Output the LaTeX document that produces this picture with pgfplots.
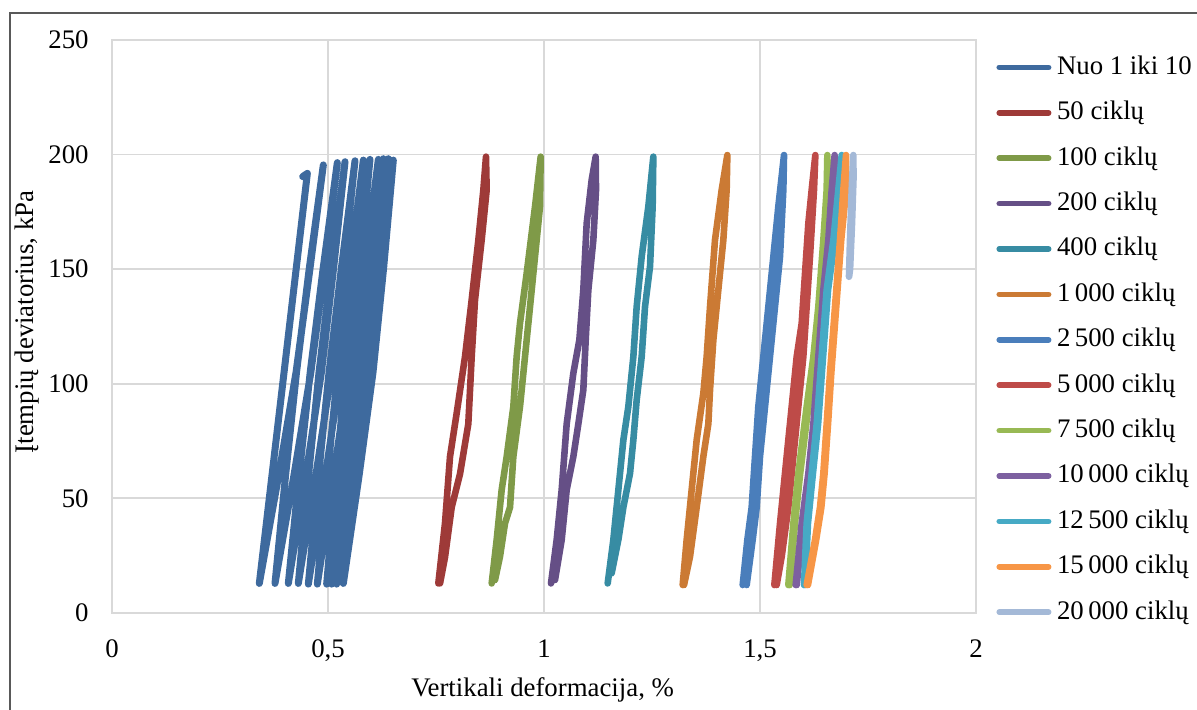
\documentclass[border=0pt]{standalone}
\usepackage{fontspec}
\setmainfont{Liberation Serif}
\usepackage{pgfplots}
\pgfplotsset{compat=1.18}
\definecolor{gridgray}{RGB}{217,217,217}
\definecolor{frame}{RGB}{89,89,89}
\definecolor{c1}{RGB}{62,106,158}
\definecolor{c2}{RGB}{158,58,56}
\definecolor{c3}{RGB}{127,154,72}
\definecolor{c4}{RGB}{101,79,134}
\definecolor{c5}{RGB}{55,140,163}
\definecolor{c6}{RGB}{203,122,52}
\definecolor{c7}{RGB}{74,126,187}
\definecolor{c8}{RGB}{190,75,72}
\definecolor{c9}{RGB}{152,185,84}
\definecolor{c10}{RGB}{125,96,160}
\definecolor{c11}{RGB}{70,170,197}
\definecolor{c12}{RGB}{247,150,70}
\definecolor{c13}{RGB}{164,185,215}
\begin{document}
\fontsize{13.4}{16}\selectfont
\begin{tikzpicture}
\useasboundingbox (0,0) rectangle (598.5pt,355pt);
\draw[color=frame, line width=1pt] (5pt,0pt) -- (5pt,348.5pt) -- (598.5pt,348.5pt);
\begin{axis}[
  at={(56pt,48.5pt)}, anchor=south west, scale only axis,
  width=432pt, height=286.5pt,
  xmin=0, xmax=2, ymin=0, ymax=250,
  xtick={0,0.5,1,1.5,2}, xticklabels={0,{0,5},1,{1,5},2},
  ytick={0,50,100,150,200,250}, yticklabels={0,50,100,150,200,250},
  major tick length=0pt,
  grid=major, major grid style={draw=gridgray, line width=0.9pt},
  axis line style={draw=gridgray, line width=0.9pt},
  tick label style={font=\fontsize{13.4}{16}\selectfont, inner sep=0pt},
  yticklabel style={anchor=east, xshift=-11.5pt},
  xticklabel style={anchor=north, yshift=-13pt},
  every axis plot/.append style={line width=3.3pt, line join=round, line cap=round},
  legend image code/.code={\draw[#1, line width=2.8pt, line cap=round] (0pt,0pt) -- (24.7pt,0pt);},
  legend cell align=left,
  legend style={at={(1.0232,0.9756)}, anchor=north west, draw=none, fill=none,
    inner sep=0pt, row sep=9.7pt, font=\fontsize{13.4}{16}\selectfont,
    nodes={inner sep=0pt, text height=10pt, text depth=3pt},
    /tikz/every odd column/.append style={column sep=2.8pt}},
]
\addplot[c1, line width=3.5pt] coordinates {
(0.4414,190.4) (0.4522,191.8) (0.3410,12.9)
(0.3858,60) (0.4260,105) (0.4581,150) (0.4892,195.5)
(0.4564,150) (0.4271,105) (0.4018,60) (0.3773,12.9)
(0.4211,60) (0.4603,105) (0.4915,150) (0.5216,196.5)
(0.4885,150) (0.4588,105) (0.4331,60) (0.4082,12.9)
(0.4487,60) (0.4847,105) (0.5127,150) (0.5394,196.9)
(0.5076,150) (0.4792,105) (0.4549,60) (0.4313,12.9)
(0.4718,60) (0.5078,105) (0.5358,150) (0.5625,197.3)
(0.5307,150) (0.5024,105) (0.4780,60) (0.4545,12.6)
(0.4940,60) (0.5290,105) (0.5561,150) (0.5818,197.6)
(0.5504,150) (0.5224,105) (0.4985,60) (0.4753,12.6)
(0.5134,60) (0.5471,105) (0.5729,150) (0.5972,197.9)
(0.5674,150) (0.5409,105) (0.5185,60) (0.4969,12.6)
(0.5344,60) (0.5676,105) (0.5928,150) (0.6165,197.9)
(0.5847,150) (0.5564,105) (0.5320,60) (0.5085,12.6)
(0.5460,60) (0.5792,105) (0.6044,150) (0.6281,198.2)
(0.5963,150) (0.5680,105) (0.5436,60) (0.5201,12.6)
(0.5576,60) (0.5908,105) (0.6160,150) (0.6397,198.2)
(0.6089,150) (0.5815,105) (0.5581,60) (0.5355,12.9)
(0.5720,60) (0.6042,105) (0.6285,150) (0.6512,197.6)
};
\addlegendentry{Nuo 1 iki 10}
\addplot[c2] coordinates {
(0.7554,12.9) (0.7708,39.1) (0.7824,68.2) (0.7978,87.1) (0.8171,111.8)
(0.8326,136.6) (0.8480,162.7) (0.8596,184.6) (0.8657,199.1)
(0.8673,184.6) (0.8557,162.7) (0.8403,136.6) (0.8326,111.8) (0.8248,82.5)
(0.8056,60.7) (0.7863,46.1) (0.7708,24.3) (0.7593,12.9)
};
\addlegendentry{50 ciklų}
\addplot[c3] coordinates {
(0.8789,12.9) (0.8904,31.9) (0.9020,53.7) (0.9136,68.2) (0.9290,90.0)
(0.9367,111.8) (0.9444,126.4) (0.9599,148.2) (0.9792,177.3) (0.9923,199.1)
(0.9907,177.3) (0.9792,155.5) (0.9676,133.6) (0.9560,111.8) (0.9444,90.0)
(0.9290,68.2) (0.9213,46.1) (0.9097,39.1) (0.8981,24.6) (0.8866,14.4)
};
\addlegendentry{100 ciklų}
\addplot[c4] coordinates {
(1.0162,12.9) (1.0293,31.9) (1.0409,53.7) (1.0525,82.5) (1.0679,104.6)
(1.0818,119.1) (1.0910,140.9) (1.0988,170.0) (1.1103,188.9) (1.1196,199.1)
(1.1204,184.6) (1.1142,162.7) (1.1026,140.9) (1.0965,119.1) (1.0910,97.3)
(1.0795,82.5) (1.0679,68.2) (1.0525,53.7) (1.0409,31.9) (1.0255,14.4)
};
\addlegendentry{200 ciklų}
\addplot[c5] coordinates {
(1.1474,12.9) (1.1605,31.9) (1.1721,53.7) (1.1837,75.5) (1.1952,90.0)
(1.2068,111.8) (1.2145,133.6) (1.2261,155.5) (1.2415,177.3) (1.2531,199.1)
(1.2515,177.3) (1.2454,151.1) (1.2338,133.6) (1.2261,111.8) (1.2145,92.9)
(1.2068,75.5) (1.1991,60.9) (1.1837,46.1) (1.1721,31.9) (1.1566,17.3)
};
\addlegendentry{400 ciklų}
\addplot[c6] coordinates {
(1.3210,12.2) (1.3302,31.9) (1.3418,53.7) (1.3534,75.5) (1.3688,95.8)
(1.3765,111.8) (1.3843,133.6) (1.3958,162.7) (1.4113,184.6) (1.4244,199.8)
(1.4228,184.6) (1.4151,162.7) (1.4035,140.9) (1.3920,119.1) (1.3843,97.3)
(1.3804,82.5) (1.3688,68.2) (1.3534,46.1) (1.3380,24.6) (1.3241,12.2)
};
\addlegendentry{1\,000 ciklų}
\addplot[c7] coordinates {
(1.4599,12.2) (1.4707,31.9) (1.4807,46.1) (1.4884,68.2) (1.4961,90.0)
(1.5077,111.8) (1.5193,133.6) (1.5309,155.5) (1.5424,177.3) (1.5556,199.8)
(1.5540,184.6) (1.5463,155.5) (1.5347,133.6) (1.5231,111.8) (1.5116,90.0)
(1.5000,68.2) (1.4923,46.1) (1.4830,31.9) (1.4691,12.2)
};
\addlegendentry{2\,500 ciklų}
\addplot[c8] coordinates {
(1.5332,12.2) (1.5463,39.1) (1.5617,68.2) (1.5733,90.0) (1.5849,111.8)
(1.5965,126.4) (1.6042,148.2) (1.6119,170.0) (1.6196,184.6) (1.6281,199.8)
(1.6250,184.6) (1.6157,155.5) (1.6080,133.6) (1.6003,111.8) (1.5887,90.0)
(1.5772,68.2) (1.5656,46.1) (1.5502,24.6) (1.5386,12.2)
};
\addlegendentry{5\,000 ciklų}
\addplot[c9] coordinates {
(1.5656,12.2) (1.5772,39.1) (1.5887,60.9) (1.6080,90.0) (1.6235,111.8)
(1.6350,133.6) (1.6466,162.7) (1.6543,184.6) (1.6559,199.8)
(1.6575,184.6) (1.6500,162.7) (1.6390,133.6) (1.6275,111.8) (1.6120,90.0)
(1.5930,60.9) (1.5810,39.1) (1.5690,12.2)
};
\addlegendentry{7\,500 ciklų}
\addplot[c10] coordinates {
(1.5826,12.2) (1.5965,39.1) (1.6119,60.9) (1.6235,82.5) (1.6350,111.8)
(1.6466,140.9) (1.6582,162.7) (1.6659,184.6) (1.6728,199.8)
(1.6735,184.6) (1.6620,162.7) (1.6500,140.9) (1.6385,111.8) (1.6270,82.5)
(1.6150,60.9) (1.5995,39.1) (1.5850,12.2)
};
\addlegendentry{10\,000 ciklų}
\addplot[c11] coordinates {
(1.6019,12.2) (1.6080,39.1) (1.6196,60.9) (1.6312,82.5) (1.6427,111.8)
(1.6543,140.9) (1.6698,162.7) (1.6813,184.6) (1.6891,199.8)
(1.6900,184.6) (1.6730,162.7) (1.6575,140.9) (1.6460,111.8) (1.6345,82.5)
(1.6225,60.9) (1.6110,39.1) (1.6045,12.2)
};
\addlegendentry{12\,500 ciklų}
\addplot[c12] coordinates {
(1.6080,12.2) (1.6273,31.9) (1.6389,46.1) (1.6466,60.9) (1.6543,82.5)
(1.6620,104.6) (1.6736,133.6) (1.6852,162.7) (1.6929,184.6) (1.6991,199.8)
(1.6995,184.6) (1.6880,162.7) (1.6765,133.6) (1.6650,104.6) (1.6575,82.5)
(1.6495,60.9) (1.6420,46.1) (1.6300,31.9) (1.6110,12.2)
};
\addlegendentry{15\,000 ciklų}
\addplot[c13] coordinates {
(1.7060,146.7) (1.7083,162.7) (1.7122,184.6) (1.7160,199.8)
(1.7165,190.0) (1.7130,170.0) (1.7085,150.0) (1.7062,146.7)
};
\addlegendentry{20\,000 ciklų}
\end{axis}
\node[anchor=base] at (271.3pt,6.5pt) {Vertikali deformacija, \%};
\node[anchor=base, rotate=90] at (16.5pt,194pt) {Įtempių deviatorius, kPa};
\end{tikzpicture}
\end{document}
